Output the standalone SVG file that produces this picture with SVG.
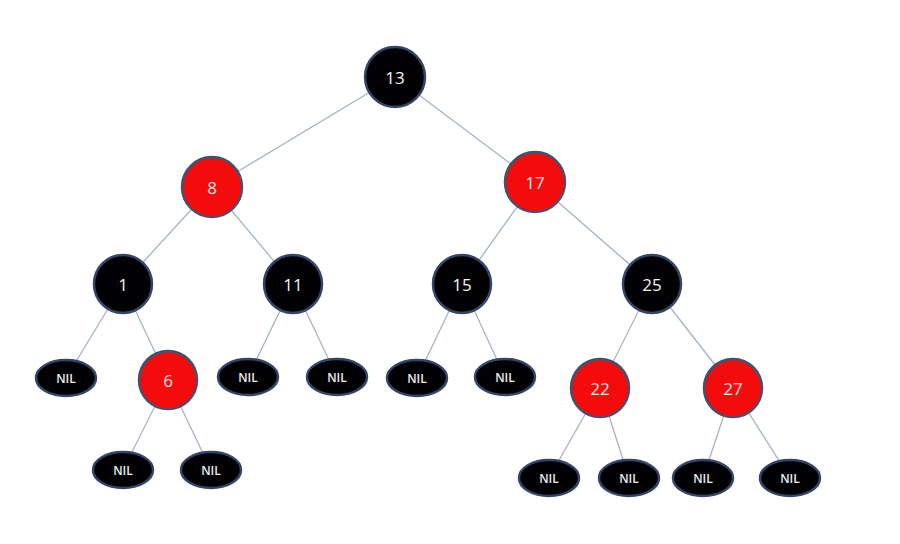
<svg xmlns="http://www.w3.org/2000/svg" width="900" height="544" viewBox="0 0 900 544">
<style>
.edge{stroke:#a4b3c6;stroke-width:1.3;fill:none}
.blk{fill:#020205;stroke:#34456a;stroke-width:2.5}
.red{fill:#f40b0b;stroke:#46506e;stroke-width:2.5}
.nil{fill:#020205;stroke:#34456a;stroke-width:2.5}
.num{font-family:"Open Sans","Liberation Sans",sans-serif;font-size:17px;text-anchor:middle;dominant-baseline:central}
.w{fill:#f4f4f4}
.p{fill:#ffe4e4}
.nt{font-family:"Open Sans","Liberation Sans",sans-serif;font-size:12px;font-weight:600;fill:#ededed;text-anchor:middle;dominant-baseline:central}
</style>
<rect width="900" height="544" fill="#ffffff"/>
<g id="connectors">
<line class="edge" x1="395" y1="77" x2="212" y2="187"/>
<line class="edge" x1="395" y1="77" x2="535" y2="182"/>
<line class="edge" x1="212" y1="187" x2="123" y2="284"/>
<line class="edge" x1="212" y1="187" x2="293" y2="284"/>
<line class="edge" x1="535" y1="182" x2="462" y2="284"/>
<line class="edge" x1="535" y1="182" x2="652" y2="284"/>
<line class="edge" x1="123" y1="284" x2="66" y2="378"/>
<line class="edge" x1="123" y1="284" x2="168" y2="380"/>
<line class="edge" x1="293" y1="284" x2="248" y2="377"/>
<line class="edge" x1="293" y1="284" x2="337" y2="377"/>
<line class="edge" x1="462" y1="284" x2="417" y2="378"/>
<line class="edge" x1="462" y1="284" x2="505" y2="377"/>
<line class="edge" x1="652" y1="284" x2="600" y2="388"/>
<line class="edge" x1="652" y1="284" x2="733" y2="388"/>
<line class="edge" x1="168" y1="380" x2="123" y2="470"/>
<line class="edge" x1="168" y1="380" x2="211" y2="470"/>
<line class="edge" x1="600" y1="388" x2="549" y2="478"/>
<line class="edge" x1="600" y1="388" x2="629" y2="478"/>
<line class="edge" x1="733" y1="388" x2="703" y2="478"/>
<line class="edge" x1="733" y1="388" x2="790" y2="478"/>
</g>
<g id="n13"><circle class="blk" cx="395" cy="77" r="30"/><text class="num w" x="395" y="77">13</text></g>
<g id="n8"><circle class="red" cx="212" cy="187" r="30"/><text class="num p" x="212" y="187">8</text></g>
<g id="n17"><circle class="red" cx="535" cy="182" r="30"/><text class="num p" x="535" y="182">17</text></g>
<g id="n1"><circle class="blk" cx="123" cy="284" r="29"/><text class="num w" x="123" y="284">1</text></g>
<g id="n11"><circle class="blk" cx="293" cy="284" r="29"/><text class="num w" x="293" y="284">11</text></g>
<g id="n15"><circle class="blk" cx="462" cy="284" r="29"/><text class="num w" x="462" y="284">15</text></g>
<g id="n25"><circle class="blk" cx="652" cy="284" r="29"/><text class="num w" x="652" y="284">25</text></g>
<g id="n6"><circle class="red" cx="168" cy="380" r="29"/><text class="num p" x="168" y="380">6</text></g>
<g id="n22"><circle class="red" cx="600" cy="388" r="29"/><text class="num p" x="600" y="388">22</text></g>
<g id="n27"><circle class="red" cx="733" cy="388" r="29"/><text class="num p" x="733" y="388">27</text></g>
<g id="nil1"><ellipse class="nil" cx="66" cy="378" rx="30" ry="18"/><text class="nt" x="66" y="378">NIL</text></g>
<g id="nil2"><ellipse class="nil" cx="248" cy="377" rx="30" ry="18"/><text class="nt" x="248" y="377">NIL</text></g>
<g id="nil3"><ellipse class="nil" cx="337" cy="377" rx="30" ry="18"/><text class="nt" x="337" y="377">NIL</text></g>
<g id="nil4"><ellipse class="nil" cx="417" cy="378" rx="30" ry="18"/><text class="nt" x="417" y="378">NIL</text></g>
<g id="nil5"><ellipse class="nil" cx="505" cy="377" rx="30" ry="18"/><text class="nt" x="505" y="377">NIL</text></g>
<g id="nil6"><ellipse class="nil" cx="123" cy="470" rx="30" ry="18"/><text class="nt" x="123" y="470">NIL</text></g>
<g id="nil7"><ellipse class="nil" cx="211" cy="470" rx="30" ry="18"/><text class="nt" x="211" y="470">NIL</text></g>
<g id="nil8"><ellipse class="nil" cx="549" cy="478" rx="30" ry="18"/><text class="nt" x="549" y="478">NIL</text></g>
<g id="nil9"><ellipse class="nil" cx="629" cy="478" rx="30" ry="18"/><text class="nt" x="629" y="478">NIL</text></g>
<g id="nil10"><ellipse class="nil" cx="703" cy="478" rx="30" ry="18"/><text class="nt" x="703" y="478">NIL</text></g>
<g id="nil11"><ellipse class="nil" cx="790" cy="478" rx="30" ry="18"/><text class="nt" x="790" y="478">NIL</text></g>
</svg>
